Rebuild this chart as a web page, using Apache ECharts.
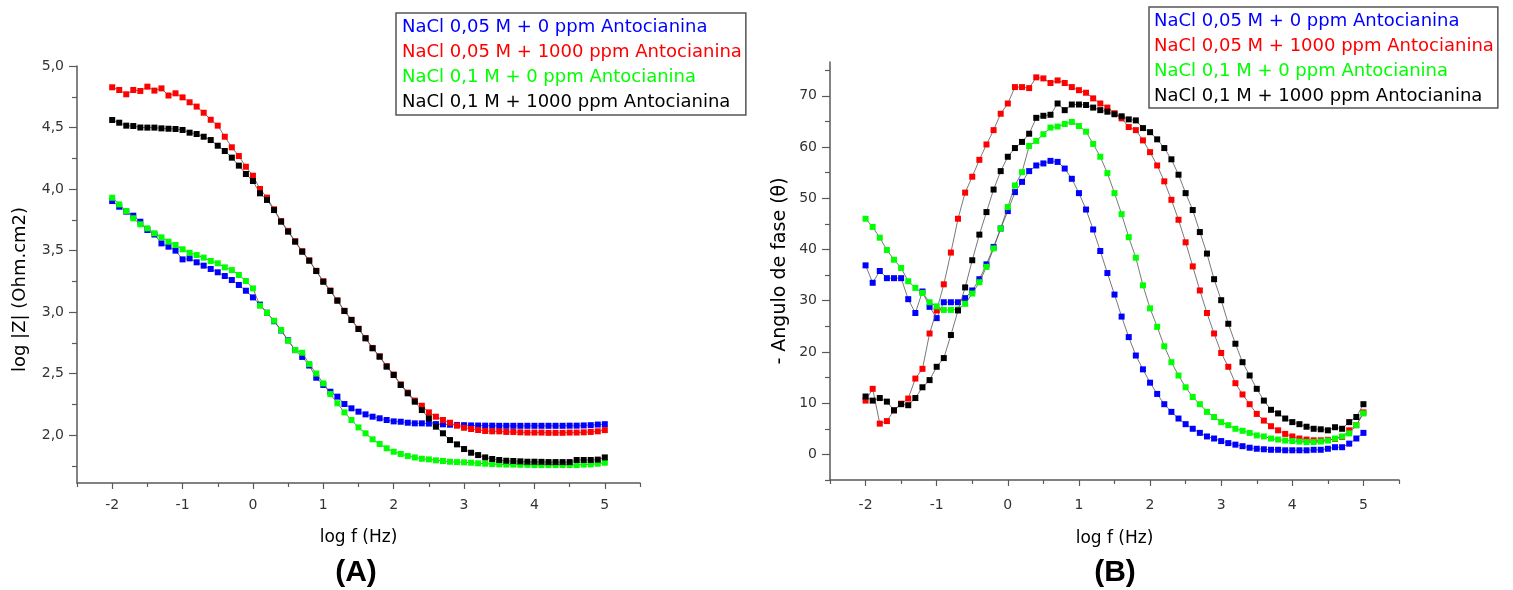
<!DOCTYPE html>
<html><head><meta charset="utf-8">
<script src="https://cdn.jsdelivr.net/npm/echarts@6/dist/echarts.min.js"></script>
<style>html,body{margin:0;padding:0;background:#fff}#c{width:1513px;height:590px}</style>
</head><body><div id="c"></div>
<script>
// ---------- data ----------
const logF = [-2.0,-1.9,-1.8,-1.7,-1.6,-1.5,-1.4,-1.3,-1.2,-1.1,-1.0,-0.9,-0.8,-0.7,-0.6,-0.5,-0.4,-0.3,-0.2,-0.1,
  0.0,0.1,0.2,0.3,0.4,0.5,0.6,0.7,0.8,0.9,1.0,1.1,1.2,1.3,1.4,1.5,1.6,1.7,1.8,1.9,
  2.0,2.1,2.2,2.3,2.4,2.5,2.6,2.7,2.8,2.9,3.0,3.1,3.2,3.3,3.4,3.5,3.6,3.7,3.8,3.9,
  4.0,4.1,4.2,4.3,4.4,4.5,4.6,4.7,4.8,4.9,5.0];

const seriesNames = ['NaCl 0,05 M + 0 ppm Antocianina','NaCl 0,05 M + 1000 ppm Antocianina',
  'NaCl 0,1 M + 0 ppm Antocianina','NaCl 0,1 M + 1000 ppm Antocianina'];
const seriesColors = ['#0000ff','#ff0000','#00ff00','#000000'];

// (A) log |Z|
const impBlue = [3.902,3.856,3.816,3.783,3.734,3.667,3.630,3.558,3.531,3.499,3.428,3.436,3.404,3.377,3.350,3.323,3.293,3.260,3.220,3.173,
  3.119,3.060,2.994,2.925,2.850,2.770,2.690,2.635,2.565,2.466,2.407,2.352,2.312,2.252,2.217,2.190,2.168,2.149,2.136,2.122,
  2.111,2.108,2.100,2.095,2.095,2.093,2.089,2.087,2.084,2.082,2.080,2.078,2.077,2.076,2.076,2.075,2.075,2.075,2.075,2.075,
  2.075,2.075,2.075,2.075,2.075,2.076,2.076,2.078,2.080,2.085,2.088];
const impRed = [4.827,4.805,4.770,4.805,4.797,4.832,4.800,4.818,4.760,4.778,4.745,4.705,4.670,4.620,4.563,4.515,4.425,4.339,4.268,4.181,
  4.108,4.000,3.930,3.835,3.740,3.660,3.575,3.495,3.420,3.335,3.250,3.175,3.095,3.010,2.937,2.864,2.788,2.708,2.640,2.560,
  2.492,2.412,2.345,2.280,2.238,2.184,2.149,2.122,2.100,2.076,2.059,2.049,2.041,2.033,2.030,2.030,2.025,2.025,2.022,2.020,
  2.020,2.020,2.018,2.018,2.018,2.020,2.020,2.022,2.025,2.030,2.040];
const impGreen = [3.929,3.875,3.821,3.762,3.713,3.680,3.640,3.607,3.572,3.545,3.510,3.482,3.463,3.442,3.415,3.396,3.363,3.341,3.301,3.252,
  3.192,3.051,2.994,2.929,2.854,2.767,2.691,2.669,2.577,2.500,2.420,2.333,2.258,2.184,2.122,2.062,2.014,1.965,1.927,1.892,
  1.864,1.846,1.829,1.818,1.807,1.802,1.794,1.789,1.783,1.780,1.778,1.775,1.770,1.767,1.764,1.762,1.760,1.760,1.758,1.758,
  1.756,1.756,1.756,1.756,1.756,1.756,1.756,1.760,1.762,1.767,1.775];
const impBlack = [4.561,4.539,4.515,4.512,4.500,4.499,4.499,4.493,4.490,4.488,4.480,4.458,4.447,4.425,4.398,4.352,4.309,4.255,4.190,4.122,
  4.065,3.965,3.911,3.829,3.734,3.653,3.572,3.490,3.417,3.333,3.246,3.171,3.092,3.008,2.935,2.862,2.786,2.705,2.637,2.556,
  2.488,2.407,2.339,2.271,2.203,2.136,2.068,2.014,1.959,1.924,1.886,1.856,1.837,1.818,1.805,1.797,1.791,1.789,1.786,1.783,
  1.783,1.782,1.780,1.780,1.780,1.780,1.797,1.797,1.797,1.800,1.818];

// (B) - phase angle
const phBlue = [36.9,33.5,35.8,34.4,34.4,34.4,30.3,27.6,31.8,28.8,26.6,29.7,29.7,29.7,30.5,32.0,34.2,37.1,40.5,44.1,
  47.5,51.2,53.2,55.3,56.4,56.8,57.3,57.1,55.8,53.8,51.0,47.8,43.9,39.7,35.4,31.2,26.9,22.9,19.3,16.6,
  14.0,11.8,9.8,8.3,7.0,5.9,5.0,4.2,3.5,3.1,2.6,2.2,1.9,1.6,1.3,1.1,1.0,0.9,0.9,0.8,
  0.8,0.8,0.8,0.9,0.9,1.1,1.4,1.4,2.1,3.1,4.2];
const phRed = [10.5,12.8,6.0,6.5,8.6,9.9,10.9,14.8,16.7,23.6,28.1,33.2,39.4,46.0,51.1,54.2,57.5,60.5,63.3,66.5,
  68.5,71.7,71.7,71.5,73.6,73.4,72.5,73.0,72.5,71.7,71.1,70.6,69.5,68.5,67.7,66.6,65.6,63.9,63.3,61.3,
  59.0,56.4,53.3,49.7,45.8,41.4,36.7,32.0,27.6,23.6,19.8,17.1,13.9,11.7,9.8,7.9,6.6,5.5,4.7,4.0,
  3.5,3.1,2.9,2.75,2.75,2.85,3.0,3.4,4.7,5.7,8.2];
const phGreen = [46.0,44.4,42.3,39.9,38.0,36.4,33.8,32.5,31.5,29.7,28.9,28.2,28.2,28.3,29.4,31.4,33.6,36.6,40.2,44.1,
  48.3,52.5,55.1,60.2,61.2,62.5,63.8,64.0,64.5,64.9,64.1,63.0,60.6,58.1,54.9,51.0,46.9,42.4,38.4,33.0,
  28.5,24.9,21.1,18.0,15.4,13.1,11.2,9.8,8.3,7.3,6.3,5.7,5.0,4.6,4.2,3.7,3.5,3.1,2.9,2.7,
  2.6,2.5,2.4,2.4,2.5,2.7,3.1,3.5,4.1,5.7,8.0];
const phBlack = [11.3,10.5,11.0,10.3,8.6,9.8,9.6,11.0,13.1,14.5,17.1,18.8,23.3,28.1,32.6,37.9,42.9,47.3,51.7,55.3,
  58.1,59.8,61.0,62.6,65.7,66.1,66.3,68.5,67.2,68.3,68.3,68.2,67.7,67.2,66.9,66.4,66.0,65.4,65.2,63.7,
  62.9,61.5,59.8,57.6,54.6,51.0,47.7,43.4,39.2,34.2,30.1,25.5,21.6,18.0,15.4,12.8,10.5,8.7,8.0,7.0,
  6.3,5.9,5.4,5.0,4.9,4.7,5.3,5.0,6.3,7.3,9.8];

// ticks / labels
const xTickLabels = [-2,-1,0,1,2,3,4,5];
const xMinorTicks = [-2.5,-1.5,-0.5,0.5,1.5,2.5,3.5,4.5,5.5];
const impTickLabels = [2.0,2.5,3.0,3.5,4.0,4.5,5.0];
const impMinorTicks = [1.75,2.25,2.75,3.25,3.75,4.25,4.75];
const phTickLabels = [0,10,20,30,40,50,60,70];
const phMinorTicks = [-5,5,15,25,35,45,55,65,75];

const impSets = [impBlue, impRed, impGreen, impBlack];
const phSets = [phBlue, phRed, phGreen, phBlack];

// ---------- chart ----------
const FONT = 'DejaVu Sans';
const AX = '#5a5a5a';
const chart = echarts.init(document.getElementById('c'), null, {renderer: 'canvas'});

function mainX(grid, name, margin, gap) {
  return {
    type: 'value', gridIndex: grid, position: 'bottom', min: -2.5, max: 5.5,
    axisLine: {show: true, onZero: false, lineStyle: {color: AX, width: 1.5}},
    axisTick: {show: true, length: 6, customValues: xTickLabels, lineStyle: {color: AX, width: 1.2}},
    axisLabel: {customValues: xTickLabels, margin: margin, fontSize: 14, fontFamily: FONT, color: '#333'},
    splitLine: {show: false},
    name: name, nameLocation: 'middle', nameGap: gap,
    nameTextStyle: {fontSize: 17, fontFamily: FONT, color: '#000'}
  };
}
function minorX(grid) {
  return {
    type: 'value', gridIndex: grid, position: 'bottom', min: -2.5, max: 5.5,
    axisLine: {show: false, onZero: false},
    axisTick: {show: true, length: 4, customValues: xMinorTicks, lineStyle: {color: AX, width: 1.2}},
    axisLabel: {show: false}, splitLine: {show: false}
  };
}
function mainY(grid, min, max, labels, fmt, name, gap, fs, pad) {
  return {
    type: 'value', gridIndex: grid, position: 'left', min: min, max: max,
    axisLine: {show: true, onZero: false, lineStyle: {color: AX, width: 1.5}},
    axisTick: {show: true, length: 8, customValues: labels, lineStyle: {color: AX, width: 1.2}},
    axisLabel: {customValues: labels, formatter: fmt, margin: 13, fontSize: 14, fontFamily: FONT, color: '#333'},
    splitLine: {show: false},
    name: name, nameLocation: 'middle', nameGap: gap,
    nameTextStyle: {fontSize: fs, fontFamily: FONT, color: '#000', padding: pad}
  };
}
function minorY(grid, min, max, ticks) {
  return {
    type: 'value', gridIndex: grid, position: 'left', min: min, max: max,
    axisLine: {show: false, onZero: false},
    axisTick: {show: true, length: 5, customValues: ticks, lineStyle: {color: AX, width: 1.2}},
    axisLabel: {show: false}, splitLine: {show: false}
  };
}

function legendFor(left, top, pad) {
  return {
    orient: 'vertical', left: left, top: top, padding: pad,
    itemWidth: 0, itemHeight: 0, itemGap: 5, icon: 'rect',
    borderColor: '#555', borderWidth: 1.5, backgroundColor: '#fff',
    selectedMode: false,
    textStyle: {fontSize: 18, fontFamily: FONT, lineHeight: 20},
    data: seriesNames.map((n, i) => ({name: n, textStyle: {color: seriesColors[i]}}))
  };
}

const series = [];
seriesNames.forEach((n, i) => {
  series.push({
    name: n, type: 'line', xAxisIndex: 0, yAxisIndex: 0,
    data: logF.map((x, k) => [x, impSets[i][k]]),
    symbol: 'rect', symbolSize: 6, showSymbol: true,
    itemStyle: {color: seriesColors[i]},
    lineStyle: {color: '#555', width: 0.8},
    emphasis: {disabled: true}, z: 2 + i
  });
});
seriesNames.forEach((n, i) => {
  series.push({
    name: n, type: 'line', xAxisIndex: 2, yAxisIndex: 2,
    data: logF.map((x, k) => [x, phSets[i][k]]),
    symbol: 'rect', symbolSize: 6, showSymbol: true,
    itemStyle: {color: seriesColors[i]},
    lineStyle: {color: '#555', width: 0.8},
    emphasis: {disabled: true}, z: 2 + i
  });
});

const option = {
  animation: false,
  backgroundColor: '#fff',
  grid: [
    {left: 77, top: 66, width: 563, height: 417},
    {left: 830, top: 62, width: 569, height: 418}
  ],
  xAxis: [mainX(0, 'log f (Hz)', 15, 46), minorX(0), mainX(1, 'log f (Hz)', 18, 50), minorX(1)],
  yAxis: [
    mainY(0, 1.61, 5.0, impTickLabels, v => v.toFixed(1).replace('.', ','), 'log |Z| (Ohm.cm2)', 48, 18, [0, 30, 0, 0]),
    minorY(0, 1.61, 5.0, impMinorTicks),
    mainY(1, -5, 76.6, phTickLabels, v => String(v), '- Angulo de fase (\u03B8)', 40, 19, [0, 0, 0, 0]),
    minorY(1, -5, 76.6, phMinorTicks)
  ],
  legend: [legendFor(396, 13, [4, 4, 3, 1]), legendFor(1149, 7, [4, 4, 2, 0])],
  graphic: [
    {type: 'text', x: 356, y: 573, style: {text: '(A)', font: 'bold 30px "Liberation Sans", Arial, sans-serif', fill: '#000', align: 'center', verticalAlign: 'middle', textAlign: 'center', textVerticalAlign: 'middle'}},
    {type: 'text', x: 1115, y: 573, style: {text: '(B)', font: 'bold 30px "Liberation Sans", Arial, sans-serif', fill: '#000', align: 'center', verticalAlign: 'middle', textAlign: 'center', textVerticalAlign: 'middle'}}
  ],
  series: series
};
chart.setOption(option);
</script>
</body></html>
